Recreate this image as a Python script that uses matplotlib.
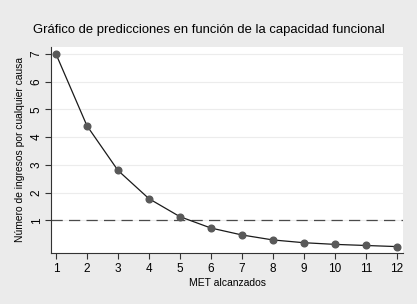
import matplotlib
matplotlib.use("Agg")
import matplotlib.pyplot as plt

# MET alcanzados vs predicted admissions
met = [1, 2, 3, 4, 5, 6, 7, 8, 9, 10, 11, 12]
ingresos = [7.0, 4.41, 2.80, 1.78, 1.13, 0.72, 0.47, 0.29, 0.19, 0.13, 0.09, 0.05]
yticks = [1, 2, 3, 4, 5, 6, 7]
ref_line = 1

plt.rcParams["font.family"] = ["Liberation Sans", "DejaVu Sans"]

fig = plt.figure(figsize=(4.17, 3.04), dpi=100)
fig.patch.set_facecolor("#ebebeb")
ax = fig.add_axes([0.1223, 0.1688, 0.967 - 0.1223, 0.8444 - 0.1688])
ax.set_facecolor("white")

for y in yticks:
    ax.axhline(y, color="#ececec", lw=0.8, zorder=0)
ax.axhline(ref_line, color="#4a4a4a", lw=0.9, dashes=(9, 5), zorder=1)
ax.plot(met, ingresos, color="#1a1a1a", lw=0.9, zorder=2)
ax.plot(met, ingresos, "o", color="#595959", ms=4.8, mec="#595959", zorder=3)

ax.set_xlim(0.84, 12.21)
ax.set_ylim(-0.17, 7.24)
ax.set_xticks(met)
ax.set_yticks(yticks)
ax.set_yticklabels([str(v) for v in yticks], rotation=90, va="center")
ax.tick_params(labelsize=8.5, length=4, width=0.8, color="#333333", direction="out")
ax.tick_params(axis="y", pad=2)

for s in ["top", "right"]:
    ax.spines[s].set_visible(False)
for s in ["left", "bottom"]:
    ax.spines[s].set_color("#333333")
    ax.spines[s].set_linewidth(0.8)

ax.set_xlabel("MET alcanzados", fontsize=7.5, labelpad=2)
ax.set_ylabel("Número de ingresos por cualquier causa", fontsize=7.4, labelpad=4)
fig.text(0.5, 0.902, "Gráfico de predicciones en función de la capacidad funcional",
         ha="center", va="center", fontsize=9.4)

fig.savefig("out.png", dpi=100, facecolor=fig.get_facecolor())
